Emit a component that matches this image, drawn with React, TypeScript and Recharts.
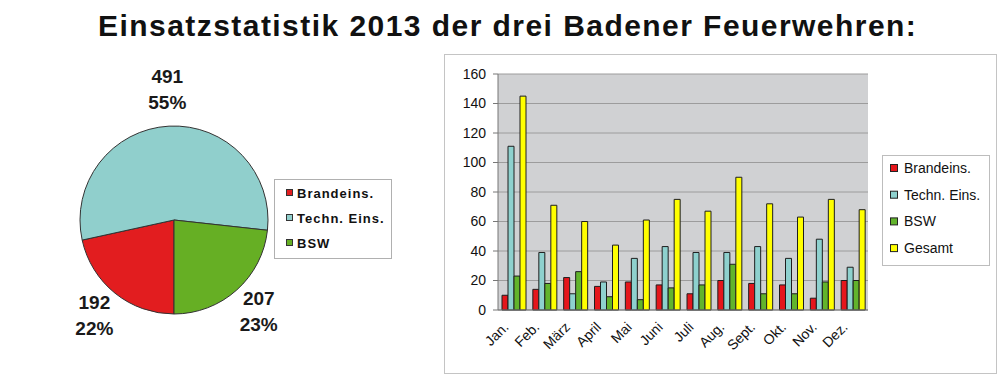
import React from 'react';
import { PieChart, Pie, Cell, BarChart, Bar, XAxis, YAxis, CartesianGrid } from 'recharts';

const months = ['Jan.', 'Feb.', 'März', 'April', 'Mai', 'Juni', 'Juli', 'Aug.', 'Sept.', 'Okt.', 'Nov.', 'Dez.'];
const brandeins = [10, 14, 22, 16, 19, 17, 11, 20, 18, 17, 8, 20];
const technEins = [111, 39, 11, 19, 35, 43, 39, 39, 43, 35, 48, 29];
const bsw = [23, 18, 26, 9, 7, 15, 17, 31, 11, 11, 19, 20];
const gesamt = [145, 71, 60, 44, 61, 75, 67, 90, 72, 63, 75, 68];

const pieNames = ['Brandeins.', 'Techn. Eins.', 'BSW'];
const pieValues = [192, 491, 207];
const pieColors = ['#e21d1f', '#90cfcc', '#66af24'];

const barKeys = ['brand', 'techn', 'bsw', 'gesamt'];
const barNames = ['Brandeins.', 'Techn. Eins.', 'BSW', 'Gesamt'];
const barColors = ['#e5161b', '#8ed1ce', '#62b42c', '#ffff00'];

const yTicks = [0, 20, 40, 60, 80, 100, 120, 140, 160];
const boundaryTicks = [0, 1, 2, 3, 4, 5, 6, 7, 8, 9, 10, 11, 12];

const titleText = 'Einsatzstatistik 2013 der drei Badener Feuerwehren:';

const FONT = "'Liberation Sans', Arial, Helvetica, sans-serif";

const pieData = pieNames.map((name, i) => ({ name, value: pieValues[i] }));
const barData = months.map((m, i) => ({
  month: m,
  brand: brandeins[i],
  techn: technEins[i],
  bsw: bsw[i],
  gesamt: gesamt[i],
}));

const RAD = Math.PI / 180;

const renderPieLabel = (props: any) => {
  const { cx, cy, midAngle, outerRadius, value, percent } = props;
  const r = outerRadius + 33;
  const x = cx + r * Math.cos(-midAngle * RAD);
  const y = cy + r * Math.sin(-midAngle * RAD);
  return (
    <text
      x={x}
      y={y}
      textAnchor="middle"
      fontFamily={FONT}
      fontWeight="bold"
      fontSize={19}
      fill="#1a1a1a"
    >
      <tspan x={x} dy={-10}>{value}</tspan>
      <tspan x={x} dy={26}>{Math.round(percent * 100)}%</tspan>
    </text>
  );
};

const RotTick = (props: any) => {
  const { x, y, payload } = props;
  return (
    <g transform={`translate(${x - 4},${y + 4})`}>
      <text
        x={0}
        y={0}
        transform="rotate(-45)"
        textAnchor="end"
        fontFamily={FONT}
        fontSize={14}
        fill="#111"
      >
        {payload.value}
      </text>
    </g>
  );
};

export default function App() {
  return (
    <div style={{ position: 'absolute', left: 0, top: 0, width: 1000, height: 377, background: '#fff', overflow: 'hidden' }}>
      <div style={{ position: 'absolute', left: 0, top: 0 }}>
        <PieChart width={440} height={377} margin={{ top: 0, right: 0, bottom: 0, left: 0 }}>
          <Pie
            data={pieData}
            dataKey="value"
            nameKey="name"
            cx={174}
            cy={220}
            outerRadius={94}
            startAngle={270}
            endAngle={-90}
            stroke="#333"
            strokeWidth={1}
            label={renderPieLabel}
            labelLine={false}
            isAnimationActive={false}
          >
            {pieData.map((d, i) => (
              <Cell key={d.name} fill={pieColors[i]} />
            ))}
          </Pie>
        </PieChart>
      </div>
      <div style={{ position: 'absolute', left: 444, top: 54 }}>
        <BarChart
          width={552}
          height={319}
          data={barData}
          margin={{ top: 20, right: 128, left: 0, bottom: 0 }}
          barCategoryGap={4}
          barGap={0}
        >
          <CartesianGrid xAxisId="c" vertical={false} fill="#d0d1d3" stroke="#9c9c9c" fillOpacity={1} />
          <XAxis
            xAxisId="a"
            type="number"
            domain={[0, 12]}
            ticks={boundaryTicks}
            tick={false}
            height={6}
            tickSize={5}
            stroke="#777"
          />
          <XAxis
            xAxisId="c"
            dataKey="month"
            height={57}
            axisLine={false}
            tickLine={false}
            tick={<RotTick />}
            interval={0}
          />
          <YAxis
            domain={[0, 160]}
            ticks={yTicks}
            width={54}
            tickSize={5}
            tickMargin={7}
            stroke="#777"
            tick={{ fontSize: 14, fill: '#111', fontFamily: FONT }}
            interval={0}
          />
          <YAxis yAxisId="r" orientation="right" width={0} tick={false} tickLine={false} stroke="#999" />
          {barKeys.map((k, i) => (
            <Bar
              key={k}
              xAxisId="c"
              dataKey={k}
              name={barNames[i]}
              fill={barColors[i]}
              stroke="#1e1e1e"
              strokeWidth={1}
              isAnimationActive={false}
            />
          ))}
        </BarChart>
      </div>
      <svg
        width={1000}
        height={377}
        style={{ position: 'absolute', left: 0, top: 0, pointerEvents: 'none' }}
      >
        <text x={98} y={36} fontFamily={FONT} fontWeight="bold" fontSize={30} letterSpacing={1.45} fill="#111">
          {titleText}
        </text>
        <rect x={444.5} y={54.5} width={552} height={319} fill="none" stroke="#c4c4c4" />
        <rect x={274.5} y={179.5} width={117} height={79} fill="none" stroke="#b0b0b0" />
        {pieNames.map((n, i) => (
          <g key={n}>
            <rect x={286.5} y={189.5 + i * 25} width={6} height={6} fill={pieColors[i]} stroke="#333" />
            <text x={297} y={197.5 + i * 25} fontFamily={FONT} fontWeight="bold" fontSize={13} letterSpacing={1} fill="#111">
              {n}
            </text>
          </g>
        ))}
        <rect x={882.5} y={155.5} width={107} height={110} fill="none" stroke="#bdbdbd" />
        {barNames.map((n, i) => (
          <g key={n}>
            <rect x={890.5} y={164.5 + i * 26.7} width={7} height={7} fill={barColors[i]} stroke="#222" />
            <text x={904} y={173 + i * 26.7} fontFamily={FONT} fontSize={14} fill="#111">
              {n}
            </text>
          </g>
        ))}
      </svg>
    </div>
  );
}
